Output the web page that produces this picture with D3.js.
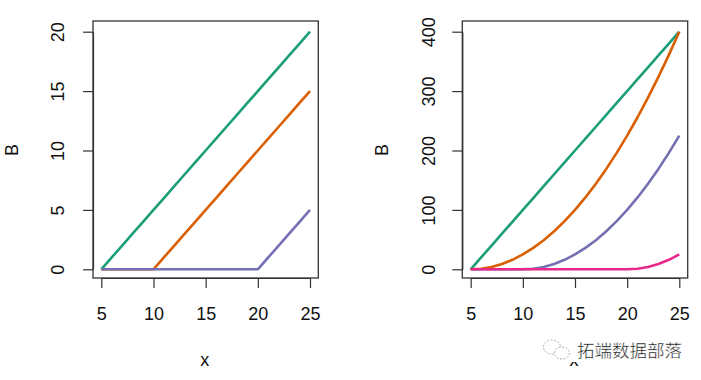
<!DOCTYPE html>
<html>
<head>
<meta charset="utf-8">
<script src="https://cdn.jsdelivr.net/npm/d3@7"></script>
<style>
  body { margin: 0; background: #fff; }
  text { font-family: "Liberation Sans", Arial, sans-serif; fill: #111; }
</style>
</head>
<body>
<div id="chart"></div>
<script>
// Data (x = 5..25)
var xVals = [5, 6, 7, 8, 9, 10, 11, 12, 13, 14, 15, 16, 17, 18, 19, 20, 21, 22, 23, 24, 25];

// left panel: linear hinge functions
var leftA = [0, 1, 2, 3, 4, 5, 6, 7, 8, 9, 10, 11, 12, 13, 14, 15, 16, 17, 18, 19, 20];
var leftB = [0, 0, 0, 0, 0, 0, 1, 2, 3, 4, 5, 6, 7, 8, 9, 10, 11, 12, 13, 14, 15];
var leftC = [0, 0, 0, 0, 0, 0, 0, 0, 0, 0, 0, 0, 0, 0, 0, 0, 1, 2, 3, 4, 5];

// right panel: quadratic hinge functions
var rightA = [0, 20, 40, 60, 80, 100, 120, 140, 160, 180, 200, 220, 240, 260, 280, 300, 320, 340, 360, 380, 400];
var rightB = [0, 1, 4, 9, 16, 25, 36, 49, 64, 81, 100, 121, 144, 169, 196, 225, 256, 289, 324, 361, 400];
var rightC = [0, 0, 0, 0, 0, 0, 1, 4, 9, 16, 25, 36, 49, 64, 81, 100, 121, 144, 169, 196, 225];
var rightD = [0, 0, 0, 0, 0, 0, 0, 0, 0, 0, 0, 0, 0, 0, 0, 0, 1, 4, 9, 16, 25];

var xTicks = [5, 10, 15, 20, 25];
var leftTicks = [0, 5, 10, 15, 20];
var rightTicks = [0, 100, 200, 300, 400];

var colors = ["#1B9E77", "#D95F02", "#7570B3", "#E7298A"];

var svg = d3.select("#chart")
  .append("svg")
  .attr("width", 701)
  .attr("height", 380);

function drawPanel(opt) {
  var x = d3.scaleLinear().domain([5, 25]).range([opt.x0, opt.x1]);
  var y = d3.scaleLinear().domain([0, opt.ymax]).range([269.3, 31.7]);

  var g = svg.append("g");

  // lines
  var line = d3.line()
    .x((d, i) => x(xVals[i]))
    .y(d => y(d));

  opt.series.forEach(function(s, i) {
    g.append("path")
      .attr("d", line(s))
      .attr("fill", "none")
      .attr("stroke", colors[i])
      .attr("stroke-width", 2.6)
      .attr("stroke-linejoin", "round");
  });

  // box
  g.append("rect")
    .attr("x", opt.bx0)
    .attr("y", 21)
    .attr("width", opt.bx1 - opt.bx0)
    .attr("height", 257)
    .attr("fill", "none")
    .attr("stroke", "#333")
    .attr("stroke-width", 1.3);

  // x axis
  var xa = g.append("g")
    .attr("transform", "translate(0,278)")
    .call(d3.axisBottom(x).tickValues(xTicks).tickSize(10).tickPadding(19).tickSizeOuter(0));
  xa.selectAll("text").style("font-size", "18px").attr("fill", "#111");

  // y axis
  var ya = g.append("g")
    .attr("transform", `translate(${opt.bx0},0)`)
    .call(d3.axisLeft(y).tickValues(opt.yTicks).tickSize(10).tickSizeOuter(0));
  ya.selectAll("text")
    .style("font-size", "18px")
    .attr("fill", "#111")
    .attr("x", null)
    .attr("dy", "0.35em")
    .attr("text-anchor", "middle")
    .attr("transform", `translate(${opt.labX - opt.bx0},0) rotate(-90)`);

  g.selectAll(".domain, .tick line").attr("stroke", "#333").attr("stroke-width", 1.2);

  // axis titles
  g.append("text")
    .attr("x", (opt.x0 + opt.x1) / 2 - 1)
    .attr("y", 366)
    .attr("text-anchor", "middle")
    .style("font-size", "18px")
    .text("x");

  g.append("text")
    .attr("transform", `translate(${opt.titleX},150) rotate(-90)`)
    .attr("dy", "0.35em")
    .attr("text-anchor", "middle")
    .style("font-size", "18px")
    .text("B");
}

drawPanel({
  x0: 101.3, x1: 310, bx0: 93, bx1: 318.3, ymax: 20,
  yTicks: leftTicks, labX: 57.5, titleX: 11.5,
  series: [leftA, leftB, leftC]
});

drawPanel({
  x0: 470.7, x1: 679.3, bx0: 462.3, bx1: 687.7, ymax: 400,
  yTicks: rightTicks, labX: 428.5, titleX: 382,
  series: [rightA, rightB, rightC, rightD]
});

// watermark (covers the top of the right "x")
var wm = svg.append("g");
wm.append("rect")
  .attr("x", 540).attr("y", 335).attr("width", 150).attr("height", 27)
  .attr("fill", "#fff");
wm.append("ellipse")
  .attr("cx", 552).attr("cy", 347).attr("rx", 8.5).attr("ry", 7)
  .attr("fill", "none").attr("stroke", "#aaa").attr("stroke-dasharray", "2,1.5");
wm.append("ellipse")
  .attr("cx", 562).attr("cy", 353).attr("rx", 7.5).attr("ry", 6)
  .attr("fill", "#fff").attr("stroke", "#aaa").attr("stroke-dasharray", "2,1.5");
wm.append("text")
  .attr("x", 577).attr("y", 356.5)
  .style("font-family", "'Noto Sans CJK SC', sans-serif")
  .style("font-size", "17.5px")
  .attr("fill", "#808080")
  .attr("stroke", "#fff")
  .attr("stroke-width", 0.4)
  .text("拓端数据部落");
</script>
</body>
</html>
